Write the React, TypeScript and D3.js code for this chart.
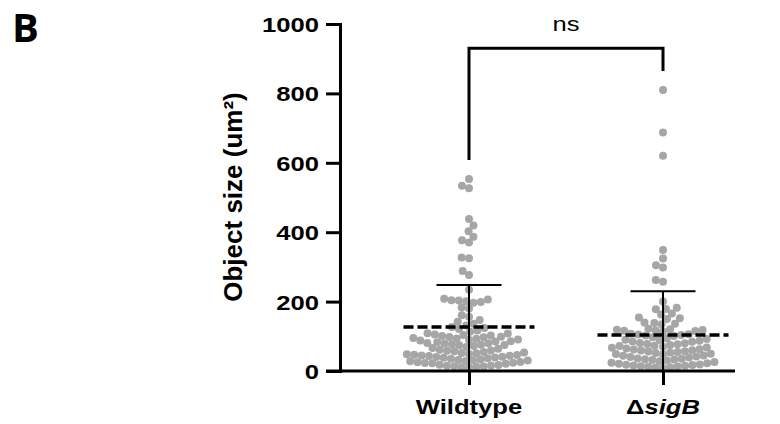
import { useEffect, useRef } from 'react';
import * as d3 from 'd3';

const groups = ['Wildtype', 'ΔsigB'];

const wildtype = [
  553, 534, 527, 438, 419, 403, 387, 377, 370, 327, 325, 288, 277, 234,
  208, 206, 204, 203, 201, 199, 197, 183, 180, 161, 156, 147, 142,
  136, 131, 127, 124, 121, 117,
  113, 109, 108, 105, 104, 102, 101, 99, 98, 97, 95, 94, 93, 91, 90,
  88, 86, 85, 83, 81, 80, 79, 77, 76, 75, 74, 72,
  69, 66, 64, 61, 59, 58, 57, 55,
  53, 52, 51, 49, 48, 47, 46, 45, 44, 43, 41, 40, 39, 38, 37, 35,
  33, 32, 31, 30, 29, 28, 26, 25, 24, 23, 22, 21,
  18, 17, 16, 15, 14, 13, 12, 11, 10,
];

const sigB = [
  810, 687, 620, 349, 324, 305, 298, 262, 257,
  200, 182, 179, 178, 166, 163, 154, 152, 150, 140, 138, 136, 135,
  122, 120, 119, 118, 117, 116, 115, 114,
  107, 106, 105, 104, 102, 101,
  97, 94, 92, 90, 89, 87, 85, 84, 81, 80, 78, 77, 75, 73, 72,
  70, 68, 67, 65, 63, 62, 60, 59, 57, 56, 55, 53, 52, 50,
  49, 48, 45, 44, 42, 40, 39, 36, 35, 34,
  33, 32, 30, 28, 26, 24, 22, 21,
  19, 18, 17, 16, 15, 14, 13, 12, 11, 10, 9,
];

const series = [wildtype, sigB];
const means = [127, 104];
const sds = [121, 126];
const yTicks = [0, 200, 400, 600, 800, 1000];
const significance = 'ns';

const FONT = 'Liberation Sans, Arial, sans-serif';
const DOT = '#a6a6a6';

// simple beeswarm: place each dot at the free offset closest to the centre
function dodge(vals: number[], yPos: (v: number) => number, spacing: number) {
  const pts = vals.map(v => ({ y: yPos(v), x: 0 })).sort((a, b) => b.y - a.y);
  const placed: { x: number; y: number }[] = [];
  for (const p of pts) {
    const spans: [number, number][] = [];
    for (const q of placed) {
      const dy = Math.abs(p.y - q.y);
      if (dy < spacing) {
        const dx = Math.sqrt(spacing * spacing - dy * dy);
        spans.push([q.x - dx, q.x + dx]);
      }
    }
    const cands = [0, ...spans.flat()].sort((a, b) => Math.abs(a) - Math.abs(b));
    p.x = cands.find(c => spans.every(([a, b]) => c <= a + 1e-6 || c >= b - 1e-6)) ?? 0;
    placed.push(p);
  }
  return pts;
}

const App = () => {
  const svgRef = useRef<SVGSVGElement>(null);

  useEffect(() => {
    const svg = d3.select(svgRef.current);
    svg.selectAll('*').remove();

    const y = d3.scaleLinear().domain([0, 1000]).range([371, 24]);
    const x = d3.scalePoint<string>().domain(groups).range([469, 663]);

    // panel letter
    svg.append('text')
      .attr('x', 12).attr('y', 42)
      .attr('font-family', 'Open Sans, sans-serif')
      .attr('font-weight', 700)
      .attr('font-size', 40)
      .text('B');

    // dots
    series.forEach((vals, i) => {
      const cx = x(groups[i])!;
      svg.append('g')
        .selectAll('circle')
        .data(dodge(vals, y, 7.4))
        .enter()
        .append('circle')
        .attr('cx', d => cx + d.x)
        .attr('cy', d => d.y)
        .attr('r', 4)
        .attr('fill', DOT);
    });

    // mean + SD
    series.forEach((_, i) => {
      const cx = x(groups[i])!;
      const g = svg.append('g').attr('stroke', '#000');
      g.append('line')
        .attr('x1', cx).attr('x2', cx)
        .attr('y1', y(means[i] + sds[i])).attr('y2', y(0))
        .attr('stroke-width', 2);
      g.append('line')
        .attr('x1', cx - 32.5).attr('x2', cx + 32.5)
        .attr('y1', y(means[i] + sds[i])).attr('y2', y(means[i] + sds[i]))
        .attr('stroke-width', 2);
      g.append('line')
        .attr('x1', cx - 65.5).attr('x2', cx + 65.5)
        .attr('y1', y(means[i])).attr('y2', y(means[i]))
        .attr('stroke-width', 3.5)
        .attr('stroke-dasharray', '10 4');
    });

    // Y axis
    const yAxis = svg.append('g')
      .attr('transform', 'translate(340,0)')
      .call(d3.axisLeft(y).tickValues(yTicks).tickSize(14).tickSizeOuter(0).tickFormat(d3.format('d')));
    yAxis.select('.domain').attr('stroke-width', 3).attr('stroke-linecap', 'square');
    yAxis.selectAll('.tick line').attr('stroke-width', 3);
    yAxis.selectAll('.tick text')
      .attr('x', null).attr('dy', null)
      .attr('transform', 'translate(-21,7.5) scale(1.22,1)')
      .attr('font-family', FONT)
      .attr('font-weight', 700)
      .attr('font-size', 21)
      .attr('fill', '#000');

    // X axis
    svg.append('line')
      .attr('x1', 326).attr('x2', 735)
      .attr('y1', y(0)).attr('y2', y(0))
      .attr('stroke', '#000').attr('stroke-width', 3);
    const xAxis = svg.append('g')
      .attr('transform', `translate(0,${y(0)})`)
      .call(d3.axisBottom(x).tickSize(14).tickSizeOuter(0));
    xAxis.select('.domain').remove();
    xAxis.selectAll('.tick line').attr('stroke-width', 3);
    xAxis.selectAll('.tick text').remove();

    groups.forEach(name => {
      const t = svg.append('text')
        .attr('transform', `translate(${x(name)},414) scale(1.22,1)`)
        .attr('text-anchor', 'middle')
        .attr('font-family', FONT)
        .attr('font-weight', 700)
        .attr('font-size', 21);
      if (name.startsWith('Δ')) {
        t.append('tspan').text('Δ');
        t.append('tspan').attr('font-style', 'italic').text(name.slice(1));
      } else {
        t.text(name);
      }
    });

    // Y title
    svg.append('text')
      .attr('transform', 'translate(242,197) rotate(-90)')
      .attr('text-anchor', 'middle')
      .attr('font-family', FONT)
      .attr('font-weight', 700)
      .attr('font-size', 26)
      .text('Object size (um²)');

    // significance bracket
    const tops = series.map(v => y(d3.max(v)!) - 19);
    const x0 = x(groups[0])!;
    const x1 = x(groups[1])!;
    svg.append('path')
      .attr('d', `M${x0},${tops[0]}V${y(930)}H${x1}V${tops[1]}`)
      .attr('fill', 'none')
      .attr('stroke', '#000')
      .attr('stroke-width', 3);
    svg.append('text')
      .attr('transform', `translate(${(x0 + x1) / 2},31) scale(1.22,1)`)
      .attr('text-anchor', 'middle')
      .attr('font-family', FONT)
      .attr('font-size', 21)
      .text(significance);
  }, []);

  return (
    <svg
      ref={svgRef}
      width={780}
      height={424}
      style={{ position: 'absolute', left: 0, top: 0, background: '#fff' }}
    />
  );
};

export default App;
